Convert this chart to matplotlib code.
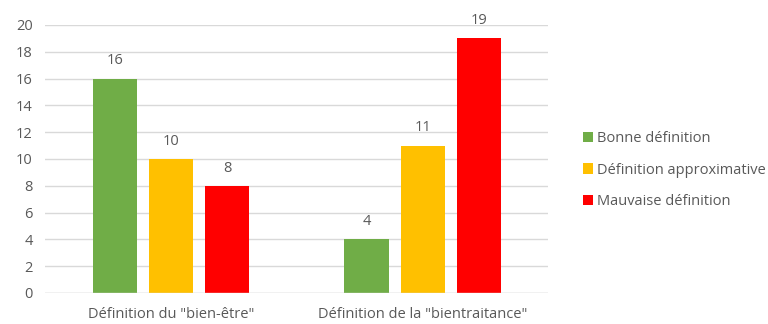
import matplotlib
matplotlib.use("Agg")
import matplotlib.pyplot as plt
import numpy as np
from matplotlib.patches import Patch

categories = ['Définition du "bien-être"', 'Définition de la "bientraitance"']
series_names = ["Bonne définition", "Définition approximative", "Mauvaise définition"]
bonne = [16, 4]
approx = [10, 11]
mauvaise = [8, 19]
colors = ["#70AD47", "#FFC000", "#FF0000"]

plt.rcParams['font.family'] = ['Open Sans', 'DejaVu Sans']
txt = "#595959"

fig = plt.figure(figsize=(7.68, 3.24), dpi=100)
ax = fig.add_axes([0.059, 0.096, 0.655, 0.827])

x = np.arange(len(categories))
w = 0.175
step = 0.223
for i, (vals, c) in enumerate(zip([bonne, approx, mauvaise], colors)):
    bars = ax.bar(x + (i - 1) * step, vals, width=w, color=c, zorder=3)
    for b, v in zip(bars, vals):
        ax.text(b.get_x() + b.get_width() / 2, v + 0.75, str(v), ha="center", va="bottom",
                fontsize=10.5, color=txt)

ax.set_xlim(-0.5, 1.5)
ax.set_ylim(0, 20)
ax.set_yticks(range(0, 21, 2))
ax.set_xticks(x)
ax.set_xticklabels(categories)
ax.grid(axis="y", color="#d9d9d9", linewidth=1, zorder=0)
for s in ax.spines.values():
    s.set_visible(False)
ax.axhline(0, color="#d9d9d9", linewidth=1, zorder=4)
ax.tick_params(axis="both", length=0, labelsize=10.5, colors=txt)
ax.tick_params(axis="x", pad=10)
ax.tick_params(axis="y", pad=9)

handles = [Patch(facecolor=c, label=n) for c, n in zip(colors, series_names)]
leg = fig.legend(handles=handles, loc="center left", bbox_to_anchor=(0.742, 0.475),
                 frameon=False, fontsize=10.5, handlelength=0.7, handleheight=0.7,
                 handletextpad=0.25, labelspacing=1.15, labelcolor=txt)

fig.savefig("out.png", dpi=100)
